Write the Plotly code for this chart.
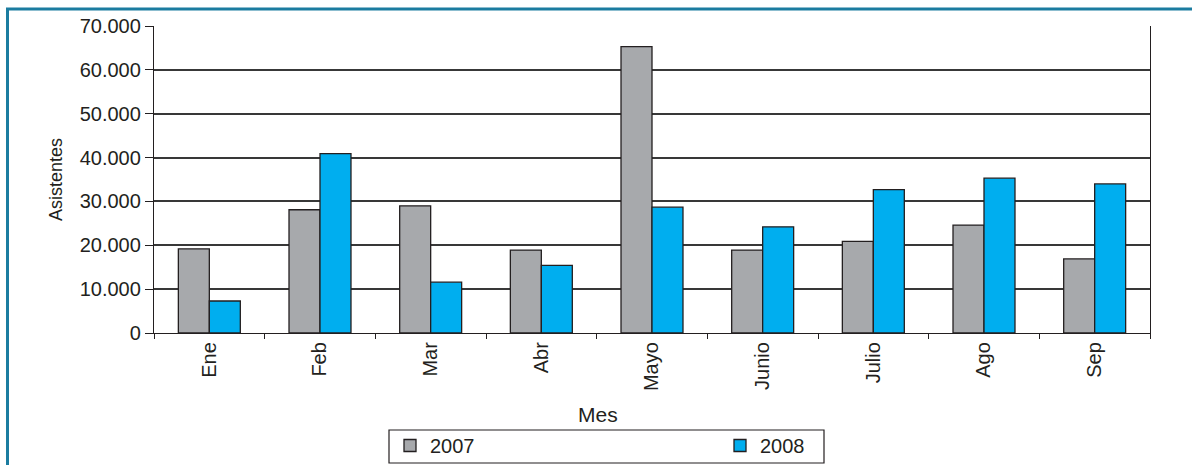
import plotly.graph_objects as go

meses = ["Ene", "Feb", "Mar", "Abr", "Mayo", "Junio", "Julio", "Ago", "Sep"]
asistentes_2007 = [19200, 28100, 29000, 18900, 65300, 18900, 20900, 24600, 16900]
asistentes_2008 = [7300, 40900, 11600, 15400, 28700, 24200, 32700, 35300, 34000]
y_ticks = [0, 10000, 20000, 30000, 40000, 50000, 60000, 70000]

FONT = "Liberation Sans, Arial, sans-serif"
TXT = "#231f20"

# pixel geometry of the plot area
L, R, T, B = 154, 1150, 26, 333
PW, PH = R - L, B - T


def px_x(x):
    return (x - L) / PW


def px_y(y):
    return (B - y) / PH


fig = go.Figure()
fig.add_trace(go.Bar(x=meses, y=asistentes_2007, name="2007",
                     marker=dict(color="#a7a9ac", line=dict(color="#231f20", width=1.3))))
fig.add_trace(go.Bar(x=meses, y=asistentes_2008, name="2008",
                     marker=dict(color="#00aeef", line=dict(color="#231f20", width=1.3))))

fig.update_layout(
    width=1192, height=465,
    margin=dict(l=L, r=1192 - R, t=T, b=465 - B, autoexpand=False),
    paper_bgcolor="white", plot_bgcolor="white",
    font=dict(family=FONT, color=TXT, size=20),
    separators=",.",
    barmode="group", bargap=0.44, bargroupgap=0,
    showlegend=True,
    legend=dict(orientation="h", x=px_x(390), y=px_y(426), xanchor="left", yanchor="top",
                borderwidth=0, bgcolor="rgba(0,0,0,0)",
                font=dict(size=20, family=FONT, color=TXT),
                entrywidth=285, entrywidthmode="pixels", traceorder="normal"),
    xaxis=dict(tickangle=-90, showline=True, linecolor="#231f20", linewidth=1.3,
               ticks="outside", ticklen=5, tickcolor="#231f20", tickson="boundaries",
               tickfont=dict(size=20),
               showgrid=False),
    yaxis=dict(range=[0, 70000], tickvals=y_ticks, tickformat=",d",
               showline=True, mirror=True, linecolor="#231f20", linewidth=1.3,
               ticks="outside", ticklen=8, tickcolor="#231f20",
               showgrid=True, gridcolor="#383838", gridwidth=1.6,
               tickfont=dict(size=20),
               title=dict(text="Asistentes", font=dict(size=18), standoff=12),
               zeroline=False),
    annotations=[
        dict(text="Mes", xref="paper", yref="paper", x=px_x(598), y=px_y(414),
             xanchor="center", yanchor="middle", showarrow=False,
             font=dict(size=21, family=FONT, color=TXT)),
    ],
    shapes=[
        # legend frame
        dict(type="rect", xref="paper", yref="paper",
             x0=px_x(389), x1=px_x(824), y0=px_y(430), y1=px_y(463),
             line=dict(color="#231f20", width=1.2), fillcolor="rgba(0,0,0,0)", layer="below"),
        # teal page frame
        dict(type="line", xref="paper", yref="paper",
             x0=px_x(6), x1=px_x(1192), y0=px_y(9), y1=px_y(9),
             line=dict(color="#1b7ca0", width=3)),
        dict(type="line", xref="paper", yref="paper",
             x0=px_x(7.5), x1=px_x(7.5), y0=px_y(8), y1=px_y(470),
             line=dict(color="#1b7ca0", width=3)),
    ],
)

fig.write_html("out.html", config={"displayModeBar": False},
               post_script="document.body.style.margin='0';")
